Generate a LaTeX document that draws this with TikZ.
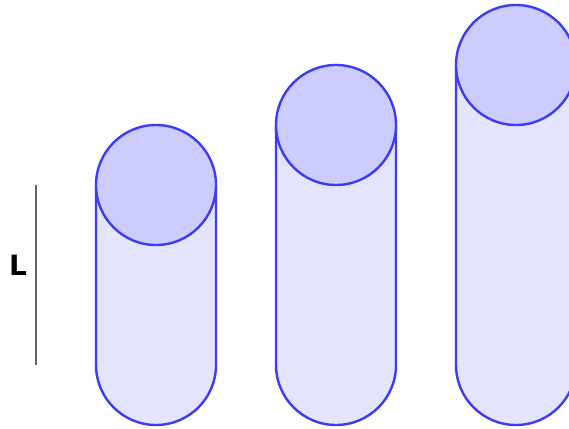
\documentclass[tikz,border=0pt]{standalone}
\usepackage{fontspec}
\setsansfont{DejaVu Sans}
\usepackage{xcolor}
\usetikzlibrary{positioning}
\definecolor{rimblue}{RGB}{60,60,245}
\definecolor{bodyblue}{RGB}{228,228,255}
\definecolor{capblue}{RGB}{204,204,255}
\definecolor{bargray}{RGB}{100,100,100}
\tikzset{
  bodyshape/.style={draw=rimblue, line width=2.4pt, fill=bodyblue},
  capshape/.style={draw=rimblue, line width=2.4pt, fill=capblue},
  lengthbar/.style={draw=bargray, line width=2.4pt},
  barlabel/.style={font=\sffamily\bfseries\fontsize{28}{30}\selectfont, inner sep=0pt}
}

\begin{document}
\begin{tikzpicture}[x=1pt, y=1pt]
\useasboundingbox (0,0) rectangle (569,428);
\clip (0,0) rectangle (569,428);
\fill[white] (0,0) rectangle (569,428);

% length scale
\coordinate (bartop) at (36,243);
\coordinate (barbot) at (36,63);
\draw[lengthbar] (bartop) -- (barbot);
\node[barlabel] (lbl) at (18,163) {L};

% cylinders, growing in height
\foreach \cx/\cy in {156/243, 336/303, 516/363} {
  \draw[bodyshape] (\cx-60,\cy) -- (\cx-60,63)
    arc[start angle=180, end angle=360, radius=60] -- (\cx+60,\cy);
  \draw[capshape] (\cx,\cy) circle[radius=60];
}
\end{tikzpicture}
\end{document}
